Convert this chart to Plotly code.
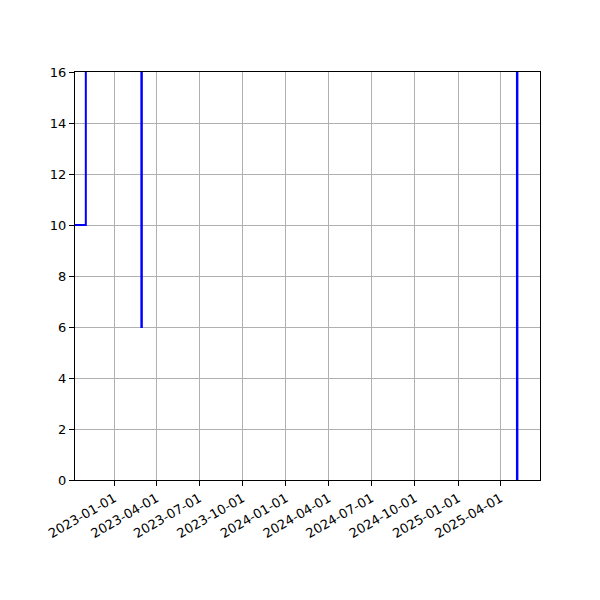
import plotly.graph_objects as go

# step series, values outside 0-16 run off the visible window
dates = ["2022-10-10", "2022-11-02", "2023-02-28", "2023-03-01",
         "2025-05-06", "2025-05-07", "2025-06-24"]
values = [10, 40, 6, 40, -5, 40, 40]

tick_dates = ["2023-01-01", "2023-04-01", "2023-07-01", "2023-10-01",
              "2024-01-01", "2024-04-01", "2024-07-01", "2024-10-01",
              "2025-01-01", "2025-04-01"]
y_ticks = [0, 2, 4, 6, 8, 10, 12, 14, 16]

fig = go.Figure(go.Scatter(
    x=dates, y=values, mode="lines",
    line=dict(color="blue", width=2, shape="hv"),
))

axis_style = dict(
    showgrid=True, gridcolor="#b0b0b0", gridwidth=1,
    showline=True, linecolor="black", linewidth=1, mirror=True,
    ticks="outside", ticklen=5, tickcolor="black",
    tickfont=dict(family="DejaVu Sans", size=13, color="black"),
    zeroline=False,
)

# page body adds ~8px offset, so margins are trimmed accordingly
fig.update_layout(
    width=600, height=600,
    margin=dict(l=67, r=68, t=64, b=128),
    plot_bgcolor="white", paper_bgcolor="white",
    showlegend=False,
    xaxis=dict(type="date", range=["2022-10-10", "2025-06-24"],
               tickvals=tick_dates, ticktext=tick_dates, tickangle=-30,
               **axis_style),
    yaxis=dict(range=[0, 16], tickvals=y_ticks, **axis_style),
)

fig.write_html("out.html")
